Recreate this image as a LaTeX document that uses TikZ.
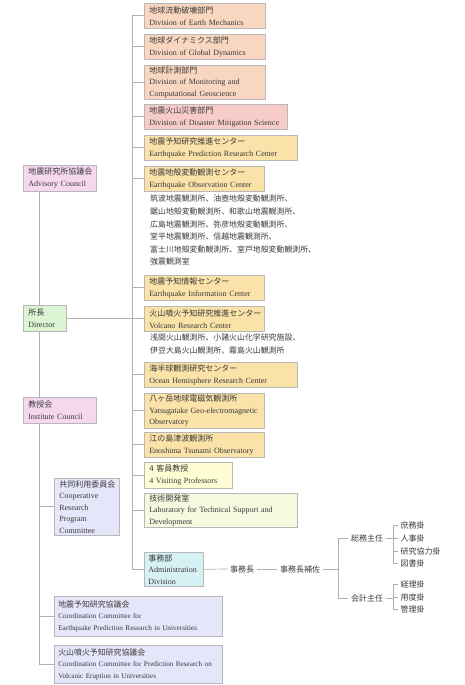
\documentclass[tikz,border=0pt]{standalone}
\usepackage{fontspec}
\setmainfont{Liberation Serif}
\newfontfamily\jp{Noto Sans CJK JP}
\definecolor{bordc}{HTML}{B8B8B8}
\definecolor{linec}{HTML}{B0B0B0}
\definecolor{txtc}{HTML}{3A3A3A}
\definecolor{cdiv}{HTML}{F9D6C0}
\definecolor{cdis}{HTML}{F7CCC8}
\definecolor{ccen}{HTML}{FAE2A8}
\definecolor{cvis}{HTML}{FFFDD4}
\definecolor{clab}{HTML}{F3FADF}
\definecolor{cadm}{HTML}{D6F1F4}
\definecolor{ccou}{HTML}{F5D8EE}
\definecolor{cdir}{HTML}{DAF4D4}
\definecolor{ccom}{HTML}{E6E6FA}
\begin{document}
\begin{tikzpicture}[x=1pt,y=-1pt,
  box/.style={draw=bordc, line width=0.6pt, anchor=north west, inner xsep=5pt, inner ysep=0pt,
    align=left, font=\fontsize{8}{12}\selectfont, text=txtc},
  plain/.style={anchor=north west, inner sep=0pt, align=left, text=txtc,
    font=\jp\fontsize{7.9}{12.6}\selectfont},
  lbl/.style={inner sep=2.5pt, text=txtc, font=\jp\fontsize{8}{9}\selectfont},
  conn/.style={draw=linec, line width=0.7pt}]
\useasboundingbox (0,0) rectangle (464,685);
% ---- nodes ----
\node[box, fill=cdiv, text width=111pt, minimum height=25pt] (d1) at (144,3) {{\jp 地球流動破壊部門}\\Division of Earth Mechanics};
\node[box, fill=cdiv, text width=111pt, minimum height=25pt] (d2) at (144,34) {{\jp 地球ダイナミクス部門}\\Division of Global Dynamics};
\node[box, fill=cdiv, text width=111pt, minimum height=34pt, font=\fontsize{8}{11.5}\selectfont] (d3) at (144,65) {{\jp 地球計測部門}\\Division of Monitoring and\\Computational Geoscience};
\node[box, fill=cdis, text width=133pt, minimum height=25pt] (d4) at (144,104) {{\jp 地震火山災害部門}\\Division of Disaster Mitigation Science};
\node[box, fill=ccen, text width=143pt, minimum height=25pt] (d5) at (144,135) {{\jp 地震予知研究推進センター}\\Earthquake Prediction Research Center};
\node[box, fill=ccen, text width=110pt, minimum height=25pt] (d6) at (144,166) {{\jp 地震地殻変動観測センター}\\Earthquake Observation Center};
\node[plain] (st1) at (150,195) {筑波地震観測所、油壺地殻変動観測所、\\鋸山地殻変動観測所、和歌山地震観測所、\\広島地震観測所、弥彦地殻変動観測所、\\堂平地震観測所、信越地震観測所、\\富士川地殻変動観測所、室戸地殻変動観測所、\\強震観測室};
\node[box, fill=ccen, text width=110pt, minimum height=25pt] (d7) at (144,275) {{\jp 地震予知情報センター}\\Earthquake Information Center};
\node[box, fill=ccen, text width=110pt, minimum height=25pt] (d8) at (144,306) {{\jp 火山噴火予知研究推進センター}\\Volcano Research Center};
\node[plain] (st2) at (150,334) {浅間火山観測所、小諸火山化学研究施設、\\伊豆大島火山観測所、霧島火山観測所};
\node[box, fill=ccen, text width=143pt, minimum height=25pt] (d9) at (144,362) {{\jp 海半球観測研究センター}\\Ocean Hemisphere Research Center};
\node[box, fill=ccen, text width=110pt, minimum height=35pt, font=\fontsize{8}{11.5}\selectfont] (d10) at (144,393) {{\jp 八ヶ岳地球電磁気観測所}\\Yatsugatake Geo-electromagnetic\\Observatory};
\node[box, fill=ccen, text width=110pt, minimum height=25pt] (d11) at (144,432) {{\jp 江の島津波観測所}\\Enoshima Tsunami Observatory};
\node[box, fill=cvis, text width=78pt, minimum height=26pt] (d12) at (144,462) {{\jp 4 客員教授}\\4 Visiting Professors};
\node[box, fill=clab, text width=143pt, minimum height=34pt, font=\fontsize{8}{11.5}\selectfont] (d13) at (144,493) {{\jp 技術開発室}\\Laboratory for Technical Support and\\Development};
\node[box, fill=cadm, inner xsep=4pt, text width=51pt, minimum height=34pt, font=\fontsize{8}{11.5}\selectfont] (d14) at (144,552) {{\jp 事務部}\\Administration\\Division};
% left column
\node[box, fill=ccou, text width=63pt, minimum height=26pt] (adv) at (23,165) {{\jp 地震研究所協議会}\\Advisory Council};
\node[box, fill=cdir, text width=33pt, minimum height=26pt] (dir) at (23,305) {{\jp 所長}\\Director};
\node[box, fill=ccou, text width=63pt, minimum height=26pt] (inst) at (23,397) {{\jp 教授会}\\Institute Council};
\node[box, fill=ccom, text width=55pt, minimum height=57pt, font=\fontsize{8}{11.5}\selectfont] (coop) at (54,478) {{\jp 共同利用委員会}\\Cooperative\\Research\\Program\\Committee};
\node[box, fill=ccom, text width=160pt, inner xsep=4pt, minimum height=40pt, font=\fontsize{7.2}{11.5}\selectfont] (cc1) at (54,596) {{\jp\fontsize{7.9}{11.5}\selectfont 地震予知研究協議会}\\Coordination Committee for\\Earthquake Prediction Research in Universities};
\node[box, fill=ccom, text width=160pt, inner xsep=4pt, minimum height=38pt, font=\fontsize{7.2}{11.5}\selectfont] (cc2) at (54,645) {{\jp\fontsize{7.9}{11.5}\selectfont 火山噴火予知研究協議会}\\Coordination Committee for Prediction Research on\\Volcanic Eruption in Universities};
% administration chain
\node[lbl] (jm) at (242,569) {事務長};
\node[lbl] (jmh) at (300,569) {事務長補佐};
\coordinate (j1) at (338,569);
\node[lbl] (som) at (367,538) {総務主任};
\node[lbl] (kai) at (367,598) {会計主任};
\coordinate (j2) at (393,569);
\node[lbl, anchor=west] (s1) at (398,525) {庶務掛};
\node[lbl, anchor=west] (s2) at (398,538) {人事掛};
\node[lbl, anchor=west] (s3) at (398,551) {研究協力掛};
\node[lbl, anchor=west] (s4) at (398,563) {図書掛};
\node[lbl, anchor=west] (k1) at (398,584) {経理掛};
\node[lbl, anchor=west] (k2) at (398,597) {用度掛};
\node[lbl, anchor=west] (k3) at (398,609) {管理掛};
% ---- connectors ----
\coordinate (rt) at (132,15);
\coordinate (lt) at (39,191);
\foreach \n in {d1,d2,d3,d4,d5,d6,d7,d8,d9,d10,d11,d12,d13,d14}{
  \draw[conn] (\n.west -| rt) -- (\n.west);
}
\draw[conn] (d1.west -| rt) -- (d14.west -| rt);
\draw[conn] (dir.east) -- (dir.east -| rt);
\draw[conn] (adv.south -| lt) -- (dir.north -| lt);
\draw[conn] (dir.south -| lt) -- (inst.north -| lt);
\draw[conn] (inst.south -| lt) -- (cc2.west -| lt);
\foreach \n in {coop,cc1,cc2}{
  \draw[conn] (\n.west -| lt) -- (\n.west);
}
\draw[conn] (d14.east) -- (jm.west);
\draw[conn] (jm.east) -- (jmh.west);
\draw[conn] (jmh.east) -- (j1);
\draw[conn] (j1 |- som) -- (j1 |- kai);
\draw[conn] (j1 |- som) -- (som.west);
\draw[conn] (j1 |- kai) -- (kai.west);
\draw[conn] (som.east) -- (som.east -| j2);
\draw[conn] (kai.east) -- (kai.east -| j2);
\draw[conn] (s1.west -| j2) -- (s4.west -| j2);
\draw[conn] (k1.west -| j2) -- (k3.west -| j2);
\foreach \n in {s1,s2,s3,s4,k1,k2,k3}{
  \draw[conn] (\n.west -| j2) -- (\n.west);
}
\end{tikzpicture}
\end{document}
